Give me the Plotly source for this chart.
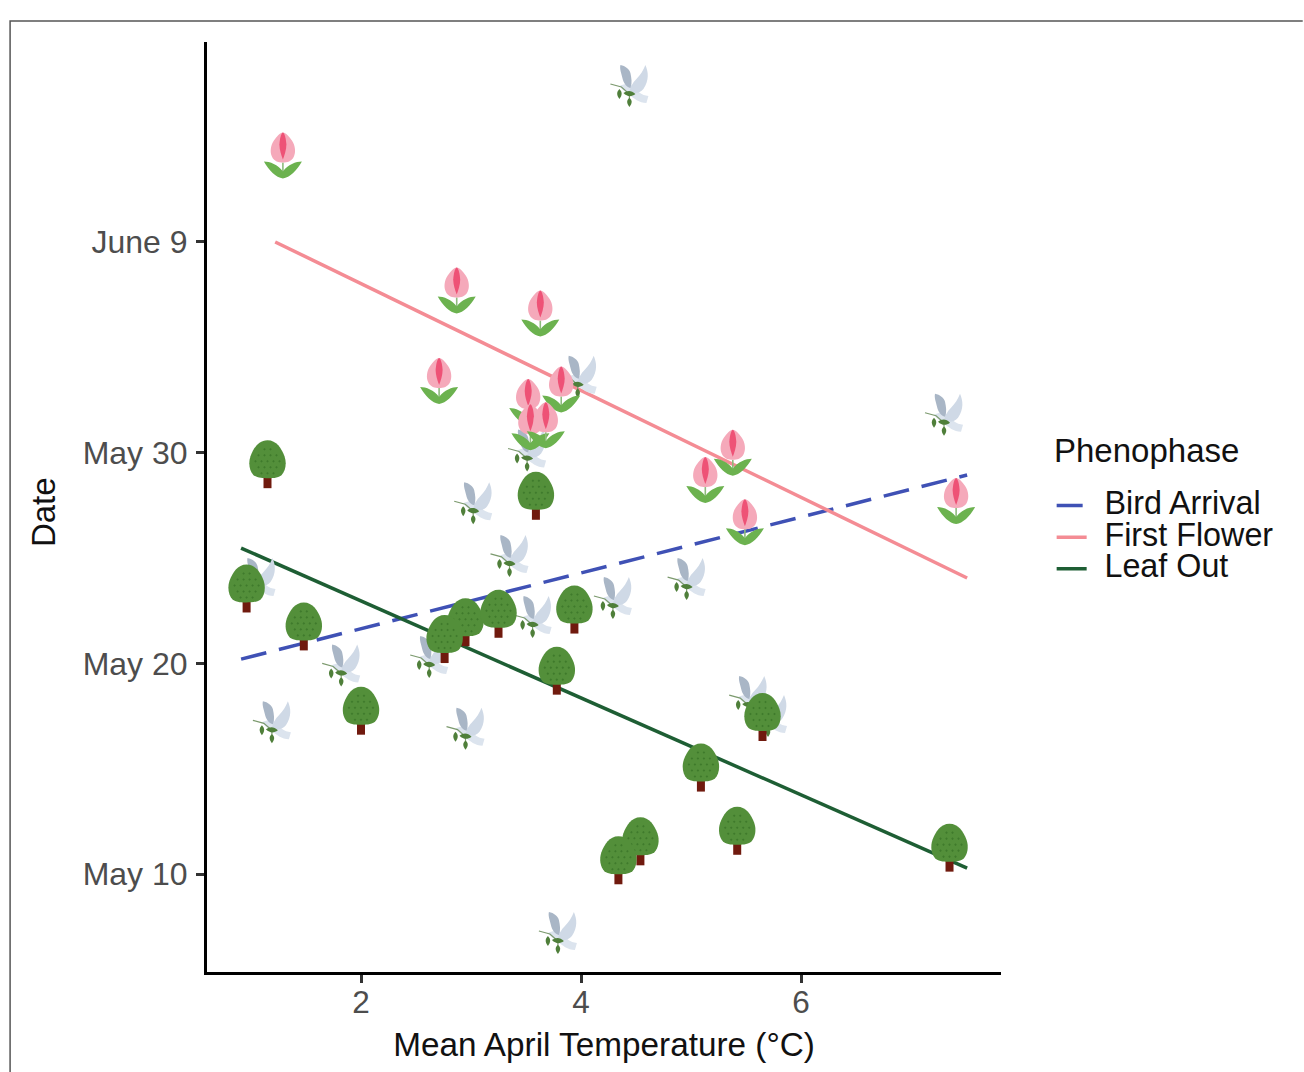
import plotly.graph_objects as go

# ---------- data (x: mean April temperature, y: day of year) ----------
flower_x = [1.29, 2.87, 3.63, 2.71, 3.52, 3.82, 3.54, 3.68, 5.38, 5.13, 5.49, 7.41]
flower_y = [164.1, 157.7, 156.6, 153.4, 152.4, 153.0, 151.2, 151.3, 150.0, 148.7, 146.7, 147.7]
bird_x = [4.44, 3.97, 7.30, 3.51, 3.02, 3.35, 4.96, 4.29, 3.56, 1.05, 1.82, 2.62, 1.19, 2.95, 5.52, 5.70, 3.79]
bird_y = [167.4, 153.6, 151.8, 150.1, 147.6, 145.1, 144.0, 143.1, 142.2, 144.0, 139.9, 140.3, 137.2, 136.9, 138.4, 137.5, 127.2]
tree_x = [1.15, 3.59, 0.96, 1.48, 2.00, 2.95, 3.25, 2.76, 3.94, 3.78, 5.65, 5.09, 5.42, 4.54, 4.34, 7.35]
tree_y = [149.5, 148.0, 143.6, 141.8, 137.8, 142.0, 142.4, 141.2, 142.6, 139.7, 137.5, 135.1, 132.1, 131.6, 130.7, 131.3]

bird_line_x = [0.91, 7.51]
bird_line_y = [140.2, 148.94]
flower_line_x = [1.22, 7.51]
flower_line_y = [160.0, 144.05]
leaf_line_x = [0.91, 7.51]
leaf_line_y = [145.47, 130.28]

phases = ["Bird Arrival", "First Flower", "Leaf Out"]
legend_title = "Phenophase"
x_ticks = [2, 4, 6]
y_ticks = [130, 140, 150, 160]
y_labels = ["May 10", "May 20", "May 30", "June 9"]

# ---------- icon artwork: (path in pixels around the anchor, fill, stroke) ----------
TULIP = [
    ("M-0.8,-7 L0.8,-7 L0.8,-19 L-0.8,-19 Z", "#8DBB7C", None),
    ("M0,-23 C-7,-22 -14,-15 -19,-6 C-13,-6 -5,-9 0,-16 C5,-9 13,-6 19,-6 C14,-15 7,-22 0,-23 Z", "#6CB24F", None),
    ("M0,23 C3,23 6,19 9,15 C12.5,10 13,3 11,-1 C9,-6 4,-7 0,-7 C-4,-7 -9,-6 -11,-1 C-13,3 -12.5,10 -9,15 C-6,19 -3,23 0,23 Z", "#F5A9BA", None),
    ("M0,23 C2,22 3,17 3.5,11 C3.5,6 1.5,0 0,-4 C-1.5,0 -3.5,6 -3.5,11 C-3,17 -2,22 0,23 Z", "#EE5276", None),
]
BIRD = [
    ("M-10,0 C-5,3 1,2 6,-1 C8,-6 12,-9 19,-10 L17,-17 C10,-17 4,-12 0,-9 C-4,-6 -8,-3 -10,0 Z", "#DCE4EE", None),
    ("M16,21 C19,14 20,6 14,-3 C10,-8 4,-8 0,-5 C2,1 4,4 7,7 C11,11 14,16 16,21 Z", "#CFD9E6", None),
    ("M-9,21 C-4,20 0,17 1,13 C2,8 3,3 1,-2 C-3,-1 -6,3 -7,8 C-8,13 -10,17 -9,21 Z", "#A9B6C6", None),
    ("M-19,2 L-8,-1 L0,-8 L0,-16", None, "#7C9A6E"),
    ("M-10,-3 C-7,-6 -7,-9 -10,-13 C-13,-9 -13,-6 -10,-3 Z", "#4F7F3A", None),
    ("M-6,-7 C-2,-4 2,-4 6,-8 C2,-11 -2,-11 -6,-7 Z", "#4F7F3A", None),
    ("M0,-12 C3,-14 3,-17 0,-21 C-3,-17 -3,-14 0,-12 Z", "#4F7F3A", None),
]
dots = ""
for dy, xs in [(14, (-3, 3)), (8, (-9, -3, 3, 9)), (2, (-12, -6, 0, 6, 12)), (-4, (-9, -3, 3, 9)), (-10, (-6, 0, 6))]:
    for dx in xs:
        dots += f"M{dx-1.3},{dy} L{dx},{dy+1.3} L{dx+1.3},{dy} L{dx},{dy-1.3} Z "
TREE = [
    ("M-4,-13 L4,-13 L4,-25 L-4,-25 Z", "#701A0E", None),
    ("M0,23 C9,23 14,15 17,7 C19.5,0 18,-8 14,-12 C10,-15 4,-15 0,-15 C-4,-15 -10,-15 -14,-12 C-18,-8 -19.5,0 -17,7 C-14,15 -9,23 0,23 Z", "#538F3A", None),
    (dots, "#3F7A2C", None),
]


def icon_shapes(xs, ys, art):
    out = []
    for x, y in zip(xs, ys):
        for path, fill, stroke in art:
            out.append(dict(
                type="path", layer="above", xref="x", yref="y",
                xsizemode="pixel", ysizemode="pixel", xanchor=x, yanchor=y,
                path=path,
                fillcolor=fill if fill else "rgba(0,0,0,0)",
                line=dict(color=stroke if stroke else "rgba(0,0,0,0)", width=1.2 if stroke else 0),
            ))
    return out


fig = go.Figure()
INK = "#111111"
FONT = "Liberation Sans, Arial, sans-serif"
GAP = '<span style="font-size:23px">\u00a0\u00a0</span>'

line_styles = [("#3F51B5", "26px,13px"), ("#F48C94", "solid"), ("#1E5E34", "solid")]
series = [(bird_line_x, bird_line_y), (flower_line_x, flower_line_y), (leaf_line_x, leaf_line_y)]
for name, (lx, ly), (col, dash) in zip(phases, series, line_styles):
    fig.add_trace(go.Scatter(
        x=lx, y=ly, mode="lines", name=f'{GAP}<span style="font-size:32.3px">{name}</span>',
        line=dict(color=col, width=3.5, dash=dash),
    ))

for name, xs, ys in [("Bird Arrival", bird_x, bird_y), ("First Flower", flower_x, flower_y), ("Leaf Out", tree_x, tree_y)]:
    fig.add_trace(go.Scatter(
        x=xs, y=ys, mode="markers", name=name, showlegend=False,
        marker=dict(size=30, color="rgba(0,0,0,0)"),
    ))

shapes = icon_shapes(bird_x, bird_y, BIRD) + icon_shapes(flower_x, flower_y, TULIP) + icon_shapes(tree_x, tree_y, TREE)
# outer frame of the figure panel
shapes.append(dict(type="path", xref="paper", yref="paper", layer="below",
                   path="M-0.248,-0.1075 L-0.248,1.0226 L1.38,1.0226",
                   fillcolor="rgba(0,0,0,0)", line=dict(color="#555555", width=1.5)))

fig.update_layout(
    width=1304, height=1072,
    margin=dict(l=207, r=303, t=42, b=100, autoexpand=False),
    paper_bgcolor="white", plot_bgcolor="white",
    font=dict(family=FONT, color=INK),
    shapes=shapes,
    hovermode="closest",
    legend=dict(
        font=dict(size=22, color=INK, family=FONT),
        x=1.0638, xanchor="left", y=0.5239, yanchor="top",
        itemwidth=30, bgcolor="rgba(0,0,0,0)", traceorder="normal",
    ),
    annotations=[
        dict(text=legend_title, xref="paper", yref="paper", x=1.0638, y=0.5603, xanchor="left", yanchor="middle",
             showarrow=False, font=dict(size=33, color=INK, family=FONT)),
        dict(text="Date", xref="paper", yref="paper", x=-0.2065, y=0.4946, xanchor="center", yanchor="middle",
             textangle=-90, showarrow=False, font=dict(size=33, color=INK, family=FONT)),
    ],
    xaxis=dict(
        range=[0.6, 7.818], tickvals=x_ticks, ticktext=[str(t) for t in x_ticks],
        showgrid=False, zeroline=False, showline=True, linecolor="black", linewidth=3,
        ticks="outside", ticklen=8, tickwidth=3, tickcolor="#333333", ticklabelstandoff=-8,
        tickfont=dict(size=31.5, color="#4D4D4D", family=FONT),
        title=dict(text="Mean April Temperature (°C)", font=dict(size=33.3, color=INK, family=FONT), standoff=14),
    ),
    yaxis=dict(
        range=[125.35, 169.49], tickvals=y_ticks, ticktext=y_labels,
        showgrid=False, zeroline=False, showline=True, linecolor="black", linewidth=3,
        ticks="outside", ticklen=8, tickwidth=3, tickcolor="#333333", ticklabelstandoff=2,
        tickfont=dict(size=32, color="#4D4D4D", family=FONT),
    ),
)
fig.write_html("out.html", config={"displayModeBar": False}, post_script="document.body.style.margin='0';")
